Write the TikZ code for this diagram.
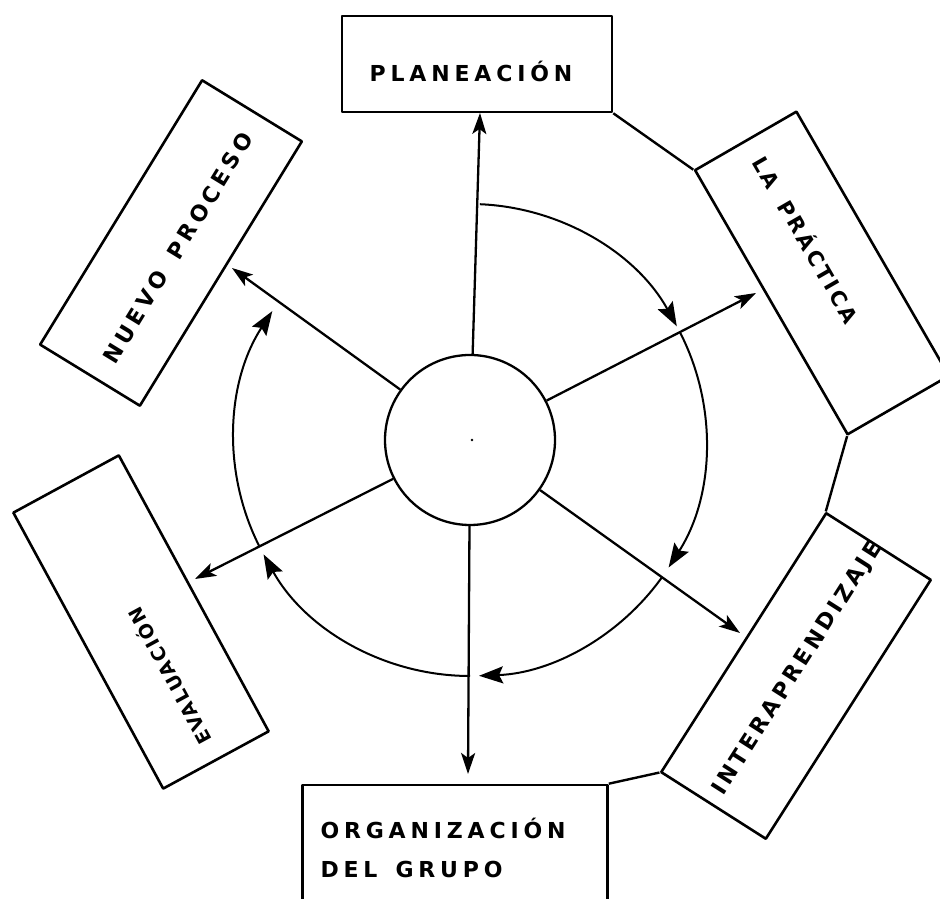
\documentclass[tikz,border=0pt]{standalone}
\usepackage{fontspec}
\usetikzlibrary{arrows.meta}
\newfontfamily\rotulo{DejaVu Sans Bold}
\newcommand{\esp}[1]{\addfontfeature{LetterSpace=#1}}
\newcommand{\hueco}{\kern 18pt\relax}

\begin{document}
\begin{tikzpicture}[x=1pt, y=1pt, line join=round,
    every node/.style={font=\rotulo\fontsize{22}{26}\selectfont}]
  \tikzstyle{caja}=[draw, line width=2.6pt, inner sep=0pt]
  \tikzstyle{rayo}=[line width=2.3pt, -{Stealth[length=21pt,width=14pt,inset=5pt]}]
  \tikzstyle{giro}=[line width=2pt, -{Stealth[length=24pt,width=17pt,inset=4pt]}]
  \useasboundingbox (0,0) rectangle (940,899);
  % centro
  \node[draw, circle, line width=2.3pt, minimum size=170pt, inner sep=0pt] (hub) at (470,459) {};
  \fill (472,459) circle (1.4pt);
  % cajas
  \node[caja, minimum width=270pt, minimum height=96pt] (plan) at (477,835) {};
  \node[caja, minimum width=305pt, minimum height=117pt, rotate=-60] (prac) at (822,626) {};
  \node[caja, minimum width=307pt, minimum height=124pt, rotate=57.5] (inter) at (796,223) {};
  \node[caja, minimum width=305pt, minimum height=130pt] (org) at (455,49) {};
  \node[caja, minimum width=314pt, minimum height=120pt, rotate=118.5] (eval) at (141,277) {};
  \node[caja, minimum width=310pt, minimum height=117pt, rotate=58.5] (nuevo) at (171,656) {};
  % rotulos
  \node (plan-t) at (471,828) {\esp{22}PLANEACIÓN};
  \node[rotate=-60, font=\rotulo\fontsize{21}{25}\selectfont] (prac-t) at (807,660) {\esp{14}LA\hueco PRÁCTICA};
  \node[rotate=57.5] (inter-t) at (798,230) {\esp{17}INTERAPRENDIZAJE};
  \node[align=left, anchor=west] (org-t) at (317,51) {\esp{22}ORGANIZACIÓN\\[13pt]\esp{22}DEL\hueco GRUPO};
  \node[rotate=118.5, font=\rotulo\fontsize{19}{23}\selectfont] (eval-t) at (169,222) {\esp{10}EVALUACIÓN};
  \node[rotate=58.5] (nuevo-t) at (178,651) {\esp{20}NUEVO\hueco PROCESO};
  % uniones entre cajas
  \draw[line width=2.4pt] (plan.south east) -- (prac.south west);
  \draw[line width=2.4pt] (prac.south east) -- (inter.north east);
  \draw[line width=2.4pt] (inter.north west) -- (org.north east);
  % rayos
  \coordinate (plan-tip) at (480,786);
  \coordinate (prac-tip) at (756,606);
  \coordinate (inter-tip) at (740,266);
  \coordinate (org-tip) at (468,125);
  \coordinate (eval-tip) at (195,320);
  \coordinate (nuevo-tip) at (232,631);
  \foreach \p in {plan,prac,inter,org,eval,nuevo}
    \draw[rayo] (hub) -- (\p-tip);
  % ciclo
  \draw[giro] (hub.center) ++(87.6:236) arc[start angle=87.6, end angle=28.8, radius=236];
  \draw[giro] (hub.center) ++(27.2:236) arc[start angle=27.2, end angle=-32.7, radius=236];
  \draw[giro] (hub.center) ++(-35.5:236) arc[start angle=-35.5, end angle=-87.8, radius=236];
  \draw[giro] (hub.center) ++(270:236) arc[start angle=270, end angle=209, radius=236];
  \draw[giro] (hub.center) ++(206.8:236) arc[start angle=206.8, end angle=146.9, radius=236];
\end{tikzpicture}
\end{document}
